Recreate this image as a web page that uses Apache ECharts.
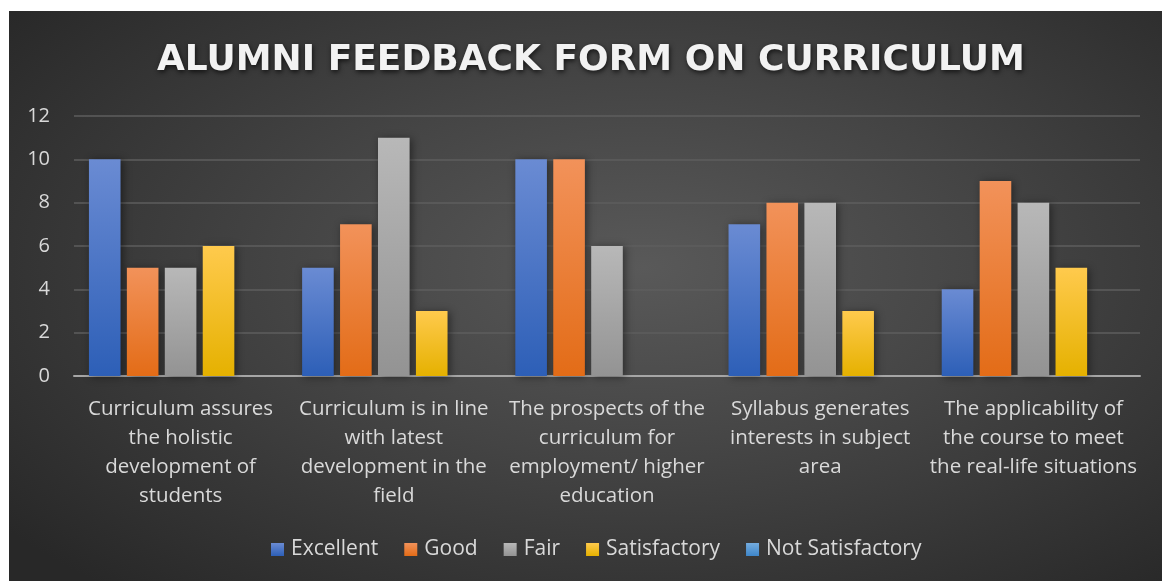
<!DOCTYPE html>
<html>
<head>
<meta charset="utf-8">
<script src="https://cdn.jsdelivr.net/npm/echarts@6/dist/echarts.min.js"></script>
<style>
  html, body { margin: 0; padding: 0; background: #ffffff; }
  #chart {
    position: absolute; left: 9px; top: 11px; width: 1153px; height: 570px;
    background: radial-gradient(ellipse 70% 75% at 55% 45%, #595959 0%, #444444 45%, #282828 100%);
  }
</style>
</head>
<body>
<div id="chart"></div>
<script>
// Survey categories (axis labels broken into lines as shown under the bars)
const categories = [
  'Curriculum assures\nthe holistic\ndevelopment of\nstudents',
  'Curriculum is in line\nwith latest\ndevelopment in the\nfield',
  'The prospects of the\ncurriculum for\nemployment/ higher\neducation',
  'Syllabus generates\ninterests in subject\narea',
  'The applicability of\nthe course to meet\nthe real-life situations'
];

// Number of responses per rating
const excellent       = [10, 5, 10, 7, 4];
const good            = [5, 7, 10, 8, 9];
const fair            = [5, 11, 6, 8, 8];
const satisfactory    = [6, 3, 0, 3, 5];
const notSatisfactory = [0, 0, 0, 0, 0];

const yTicks = [0, 2, 4, 6, 8, 10, 12];

const FONT = '"Open Sans", Lato, sans-serif';

function grad(top, bottom) {
  return new echarts.graphic.LinearGradient(0, 0, 0, 1, [
    { offset: 0, color: top },
    { offset: 1, color: bottom }
  ]);
}

const palette = {
  Excellent: { top: '#6a8bd3', bottom: '#2d5fb7', legend: '#4472c4' },
  Good: { top: '#f2925a', bottom: '#e36c17', legend: '#ed7d31' },
  Fair: { top: '#b8b8b8', bottom: '#939393', legend: '#a5a5a5' },
  Satisfactory: { top: '#ffca4d', bottom: '#e5b100', legend: '#ffc000' },
  'Not Satisfactory': { top: '#74acdf', bottom: '#3e86c9', legend: '#5b9bd5' }
};

function barSeries(name, data) {
  const p = palette[name];
  return {
    name: name,
    type: 'bar',
    data: data,
    barGap: '20%',
    barCategoryGap: '14%',
    color: p.legend,
    itemStyle: {
      color: grad(p.top, p.bottom),
      shadowColor: 'rgba(0,0,0,0.45)',
      shadowBlur: 8,
      shadowOffsetX: 2,
      shadowOffsetY: 1
    },
    emphasis: { disabled: true }
  };
}

const chart = echarts.init(document.getElementById('chart'), null, { renderer: 'canvas' });

chart.setOption({
  backgroundColor: 'transparent',
  animation: false,
  title: {
    text: 'ALUMNI FEEDBACK FORM ON CURRICULUM',
    left: 143,
    top: 27,
    textStyle: {
      fontFamily: '"DejaVu Sans", sans-serif',
      fontWeight: 'bold',
      fontSize: 36,
      color: '#f2f2f2',
      textShadowColor: 'rgba(0,0,0,0.7)',
      textShadowBlur: 5,
      textShadowOffsetX: 1,
      textShadowOffsetY: 2
    }
  },
  legend: {
    bottom: 16,
    left: 257,
    itemWidth: 13,
    itemHeight: 13,
    itemGap: 26,
    icon: 'rect',
    textStyle: { color: '#d9d9d9', fontFamily: FONT, fontSize: 21, padding: [0, 0, 0, 2] },
    data: ['Excellent', 'Good', 'Fair', 'Satisfactory', 'Not Satisfactory']
  },
  grid: { left: 65, right: 22, top: 105, bottom: 205 },
  xAxis: {
    type: 'category',
    data: categories,
    axisLine: { lineStyle: { color: '#a6a6a6', width: 2 } },
    axisTick: { show: false },
    axisLabel: {
      color: '#d9d9d9',
      fontFamily: FONT,
      fontSize: 20.5,
      lineHeight: 29,
      margin: 19,
      interval: 0,
      align: 'center'
    }
  },
  yAxis: {
    type: 'value',
    min: yTicks[0],
    max: yTicks[yTicks.length - 1],
    interval: 2,
    axisLine: { show: false },
    axisTick: { show: false },
    axisLabel: { color: '#d9d9d9', fontFamily: FONT, fontSize: 20, margin: 24 },
    splitLine: { lineStyle: { color: '#5e5e5e', width: 1.5 } }
  },
  series: [
    barSeries('Excellent', excellent),
    barSeries('Good', good),
    barSeries('Fair', fair),
    barSeries('Satisfactory', satisfactory),
    barSeries('Not Satisfactory', notSatisfactory)
  ]
});
</script>
</body>
</html>
